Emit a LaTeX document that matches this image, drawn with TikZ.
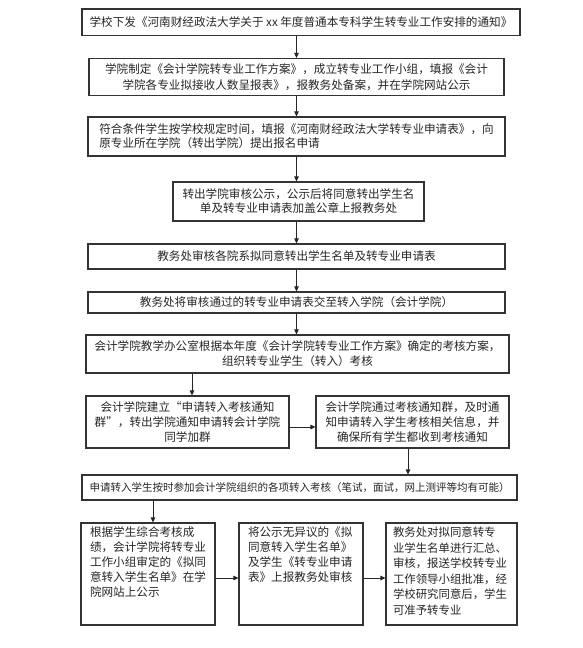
\documentclass[tikz,border=0pt]{standalone}
\usepackage{fontspec}
\setmainfont{Noto Sans CJK SC}
\usetikzlibrary{arrows.meta}
\begin{document}
\begin{tikzpicture}[x=1pt,y=-1pt,
  box/.style={draw=black!80, line width=1.1pt, inner sep=0pt, text=black!85,
    font=\fontsize{11.6}{15}\selectfont},
  arr/.style={draw=black!85, line width=0.8pt, -{Triangle[length=5pt,width=4.5pt]}}]
\useasboundingbox (0,0) rectangle (582,648);
\fill[white] (0,0) rectangle (582,648);

\node[box, minimum width=438pt, minimum height=26.5pt] (b1) at (301,22.25)
  {学校下发《河南财经政法大学关于 xx 年度普通本专科学生转专业工作安排的通知》};
\node[box, minimum width=415pt, minimum height=37pt, align=center,
  font=\fontsize{11.6}{16.5}\selectfont] (b2) at (296.5,77)
  {学院制定《会计学院转专业工作方案》，成立转专业工作小组，填报《会计\\
   学院各专业拟接收人数呈报表》，报教务处备案，并在学院网站公示};
\node[box, minimum width=417pt, minimum height=39pt, align=left,
  font=\fontsize{11.6}{14}\selectfont] (b3) at (296.5,136.5)
  {符合条件学生按学校规定时间，填报《河南财经政法大学转专业申请表》，向\\
   原专业所在学院（转出学院）提出报名申请};
\node[box, minimum width=251pt, minimum height=39pt, align=center,
  font=\fontsize{11.6}{14}\selectfont] (b4) at (298.5,201.5)
  {转出学院审核公示，公示后将同意转出学生名\\
   单及转专业申请表加盖公章上报教务处};
\node[box, minimum width=417pt, minimum height=25pt] (b5) at (296.5,256.5)
  {教务处审核各院系拟同意转出学生名单及转专业申请表};
\node[box, minimum width=417pt, minimum height=21pt] (b6) at (296.5,302.5)
  {教务处将审核通过的转专业申请表交至转入学院（会计学院）};
\node[box, minimum width=423pt, minimum height=38pt, align=center] (b7) at (297.5,354)
  {会计学院教学办公室根据本年度《会计学院转专业工作方案》确定的考核方案，\\
   组织转专业学生（转入）考核};
\node[box, minimum width=203pt, minimum height=52pt, align=center] (b8) at (187.5,422)
  {会计学院建立“申请转入考核通知\\
   群”，转出学院通知申请转会计学院\\
   同学加群};
\node[box, minimum width=193pt, minimum height=52pt, align=center] (b9) at (412.5,422)
  {会计学院通过考核通知群，及时通\\
   知申请转入学生考核相关信息，并\\
   确保所有学生都收到考核通知};
\node[box, minimum width=435pt, minimum height=25pt,
  font=\fontsize{10.5}{13}\selectfont] (b10) at (299.5,487.5)
  {申请转入学生按时参加会计学院组织的各项转入考核（笔试，面试，网上测评等均有可能）};
\node[box, minimum width=134pt, minimum height=102pt] (b11) at (148,574)
  {\parbox[c][94pt][t]{116pt}{\raggedright
   根据学生综合考核成\\
   绩，会计学院将转专业\\
   工作小组审定的《拟同\\
   意转入学生名单》在学\\
   院网站上公示}};
\node[box, minimum width=124pt, minimum height=102pt] (b12) at (301,574)
  {\parbox[c][94pt][t]{106pt}{\raggedright
   将公示无异议的《拟\\
   同意转入学生名单》\\
   及学生《转专业申请\\
   表》上报教务处审核}};
\node[box, minimum width=131pt, minimum height=102pt] (b13) at (451.5,574)
  {\parbox[c][94pt][t]{117pt}{\raggedright\fontsize{11.4}{15.5}\selectfont
   教务处对拟同意转专\\
   业学生名单进行汇总、\\
   审核，报送学校转专业\\
   工作领导小组批准，经\\
   学校研究同意后，学生\\
   可准予转专业}};

\draw[arr] (b1.south -| b2.north) -- (b2.north);
\draw[arr] (b2.south) -- (b3.north);
\draw[arr] (b3.south) -- (b3.south |- b4.north);
\draw[arr] (b4.south -| b5.north) -- (b5.north);
\draw[arr] (b5.south) -- (b6.north);
\draw[arr] (b6.south) -- (b6.south |- b7.north);
\draw[arr] ([xshift=4.5pt]b8.north |- b7.south) -- ([xshift=4.5pt]b8.north);
\draw[arr] ([yshift=-5pt]b8.east) -- ([yshift=-5pt]b8.east -| b9.west);
\draw[arr] ([xshift=-4.5pt]b9.south) -- ([xshift=-4.5pt]b9.south |- b10.north);
\draw[arr] ([xshift=5pt]b11.north |- b10.south) -- ([xshift=5pt]b11.north);
\draw[arr] ([yshift=-4pt]b11.east) -- ([yshift=-4pt]b11.east -| b12.west);
\draw[arr] ([yshift=-4pt]b12.east) -- ([yshift=-4pt]b12.east -| b13.west);
\end{tikzpicture}
\end{document}
